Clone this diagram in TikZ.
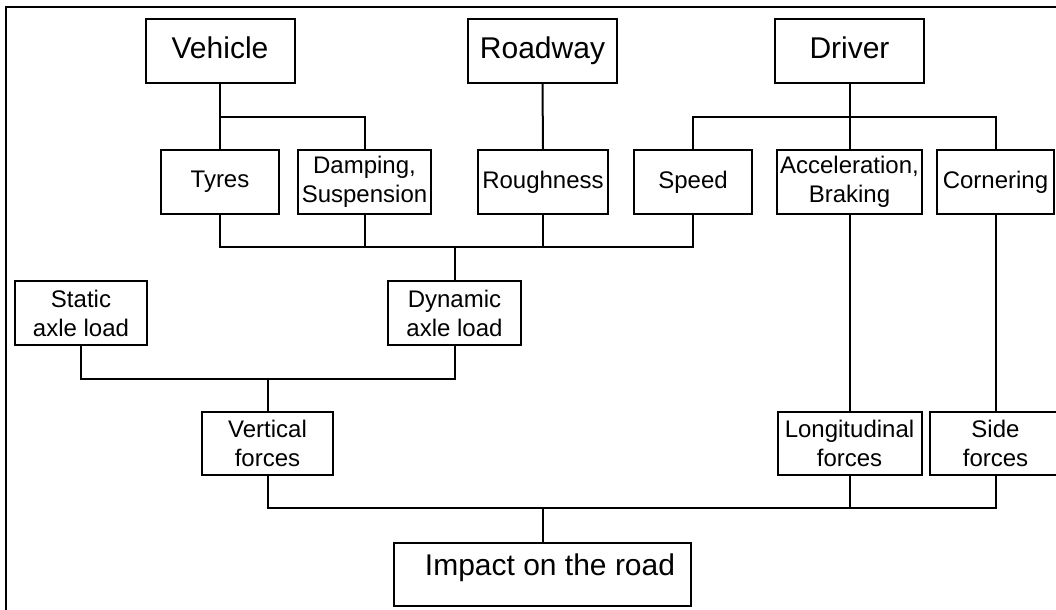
\documentclass[tikz,border=0pt]{standalone}
\usepackage{fontspec}
\setmainfont{Liberation Sans}
\usepackage{tikz}
\usetikzlibrary{positioning}
\tikzset{
  box/.style={rectangle, draw=black, line width=1pt, align=center, inner sep=1pt, minimum height=32pt, font=\fontsize{12}{14.5}\selectfont},
  topbox/.style={box, font=\fontsize{15}{18}\selectfont, text height=0.72em, text depth=0pt},
  wire/.style={line width=1pt, black},
}

\begin{document}
\begin{tikzpicture}[x=0.5pt, y=-0.5pt]
\useasboundingbox (0,0) rectangle (1056,610);
\clip (0,0) rectangle (1056,610);
\draw[line width=0.9pt] (6,7) rectangle (1075,630);

% sources
\node[topbox, minimum width=74.5pt] (veh) at (220,51) {Vehicle};
\node[topbox, minimum width=74.5pt] (road) at (542.5,51) {Roadway};
\node[topbox, minimum width=74.5pt] (drv) at (849.5,51) {Driver};

% factors
\node[box, minimum width=59pt] (tyr) at (220,182) {Tyres};
\node[box, minimum width=66.5pt, right=8.5pt of tyr] (dmp) {Damping,\\Suspension};
\node[box, minimum width=65pt, right=22.5pt of dmp] (rgh) {Roughness};
\node[box, minimum width=59pt, right=12pt of rgh] (spd) {Speed};
\node[box, minimum width=72.5pt, right=11.5pt of spd] (acc) {Acceleration,\\Braking};
\node[box, minimum width=58.5pt, right=6.5pt of acc] (cor) {Cornering};

% loads
\node[box, minimum width=66pt] (sta) at (81,313) {Static\\axle load};
\node[box, minimum width=66.5pt] (dyn) at (454.5,313) {Dynamic\\axle load};

% forces
\node[box, minimum width=65.5pt, minimum height=31.5pt] (vrt) at (267.5,443.5) {Vertical\\forces};
\node[box, minimum width=72pt, minimum height=31.5pt] (lng) at (849.5,443.5) {Longitudinal\\forces};
\node[box, minimum width=65.5pt, minimum height=31.5pt] (sid) at (995.5,443.5) {Side\\forces};

\node[topbox, minimum width=148.5pt, minimum height=31.5pt, text depth=0.6em] (imp) at (542.5,574.5) {\hspace*{7.5pt}Impact on the road};

% bus levels
\coordinate (busA) at (0,117);
\coordinate (busB) at (0,247);
\coordinate (busC) at (0,379);
\coordinate (busD) at (0,508);

\draw[wire] (veh.south) -- (tyr.north);
\draw[wire] (veh.south |- busA) -| (dmp.north);
\draw[wire] (road.south) -- (rgh.north);
\draw[wire] (drv.south) -- (acc.north);
\draw[wire] (spd.north) |- (cor.north |- busA) -- (cor.north);

\draw[wire] (tyr.south) |- (spd.south |- busB) -- (spd.south);
\draw[wire] (dmp.south) -- (dmp.south |- busB);
\draw[wire] (rgh.south) -- (rgh.south |- busB);
\draw[wire] (dyn.north) -- (dyn.north |- busB);

\draw[wire] (sta.south) |- (dyn.south |- busC) -- (dyn.south);
\draw[wire] (vrt.north) -- (vrt.north |- busC);

\draw[wire] (acc.south) -- (lng.north);
\draw[wire] (cor.south) -- (sid.north);

\draw[wire] (vrt.south) |- (sid.south |- busD) -- (sid.south);
\draw[wire] (lng.south) -- (lng.south |- busD);
\draw[wire] (imp.north) -- (imp.north |- busD);
\end{tikzpicture}
\end{document}
